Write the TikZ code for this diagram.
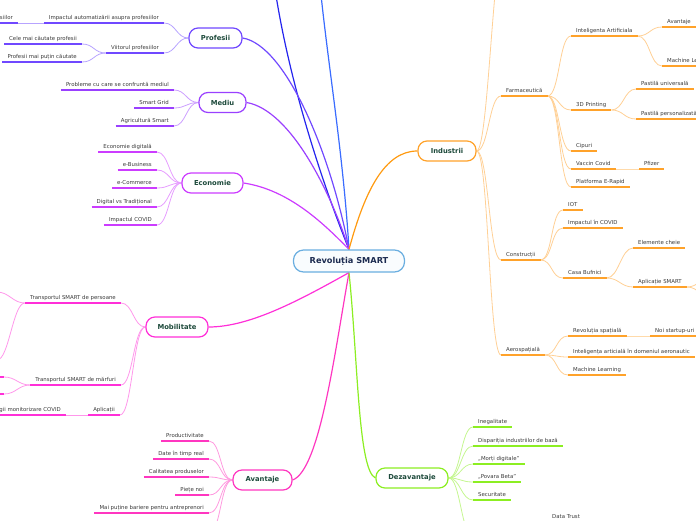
\documentclass[tikz,border=0pt]{standalone}
\usepackage{fontspec}
\setmainfont{DejaVu Sans}
\usetikzlibrary{backgrounds}
\definecolor{ctop1}{HTML}{3A6CFF}
\definecolor{ctop2}{HTML}{2424EE}
\definecolor{cprof}{HTML}{7048FF}
\definecolor{cmed}{HTML}{9A40FF}
\definecolor{ceco}{HTML}{CC3CFF}
\definecolor{cmob}{HTML}{FF2FD8}
\definecolor{cav}{HTML}{FF36C0}
\definecolor{cdez}{HTML}{8CEE22}
\definecolor{cind}{HTML}{FFA22A}
\definecolor{cindl}{HTML}{FF9A10}
\definecolor{cctr}{HTML}{6AAEE0}
\definecolor{leafgray}{HTML}{3A3A3A}
\definecolor{mtext}{HTML}{1D4A3B}
\definecolor{ctext}{HTML}{1C2B50}
\newcommand\lfont{\fontsize{5.4}{6.5}\selectfont}
\newcommand\mfont{\fontsize{6.8}{8}\selectfont\bfseries}
\newcommand\cfont{\fontsize{8.2}{10}\selectfont\bfseries}
\newcommand\lcurve[3]{\draw[cn=#1] (#2) .. controls +(-12,0) and +(12,0) .. (#3);}
\newcommand\rcurve[3]{\draw[cn=#1] (#2) .. controls +(12,0) and +(-12,0) .. (#3);}
\begin{document}
\begin{tikzpicture}[x=1pt,y=-1pt,
  leaf/.style={font=\lfont, text=leafgray, inner xsep=5pt, inner ysep=1.7pt,
    text height=4pt, text depth=1.3pt,
    append after command={(\tikzlastnode.south west) edge[line width=1.5pt, draw=#1] (\tikzlastnode.south east)}},
  mn/.style={draw=#1, line width=1.2pt, rounded corners=9pt, fill=white, font=\mfont,
    text=mtext, minimum height=20pt, inner sep=1pt},
  ctr/.style={draw=cctr, line width=1.2pt, rounded corners=10pt, fill=cctr!4, font=\cfont,
    text=ctext, minimum height=22pt, minimum width=111pt},
  br/.style={draw=#1, line width=1.2pt},
  cn/.style={draw=#1, line width=0.8pt}]
\useasboundingbox (0,0) rectangle (696,520);

% central and main nodes
\node[ctr] (c) at (349,261) {Revoluția SMART};
\node[mn=cprof, minimum width=53pt] (prof) at (215.5,38) {Profesii};
\node[mn=cmed, minimum width=47pt] (med) at (222.5,102.5) {Mediu};
\node[mn=ceco, minimum width=61pt] (eco) at (212.5,183) {Economie};
\node[mn=cmob, minimum width=62pt] (mob) at (177,327) {Mobilitate};
\node[mn=cav, minimum width=59pt] (av) at (262.5,480) {Avantaje};
\node[mn=cdez, minimum width=72pt] (dez) at (412,478) {Dezavantaje};
\node[mn=cind, minimum width=58pt] (ind) at (447,151) {Industrii};

\coordinate (top1) at (319,-25);
\coordinate (top2) at (273,-25);

% Profesii
\node[leaf=cprof, anchor=south east] (imp) at (164,23) {Impactul automatizării asupra profesiilor};
\node[leaf=cprof, anchor=south east] (imp1) at (18,23) {profesiilor};
\node[leaf=cprof, anchor=south east] (viit) at (164,53) {Viitorul profesiilor};
\node[leaf=cprof, anchor=south east] (cel) at (82,44) {Cele mai căutate profesii};
\node[leaf=cprof, anchor=south east] (pmp) at (82,62) {Profesii mai puțin căutate};

% Mediu
\node[leaf=cmed, anchor=south east] (pcm) at (174,90) {Probleme cu care se confruntă mediul};
\node[leaf=cmed, anchor=south east] (sg) at (174,108) {Smart Grid};
\node[leaf=cmed, anchor=south east] (as) at (174,126) {Agricultură Smart};

% Economie
\node[leaf=ceco, anchor=south east] (ed) at (157,152) {Economie digitală};
\node[leaf=ceco, anchor=south east] (eb) at (157,170) {e-Business};
\node[leaf=ceco, anchor=south east] (ec) at (157,188) {e-Commerce};
\node[leaf=ceco, anchor=south east] (dt) at (157,207) {Digital vs Tradițional};
\node[leaf=ceco, anchor=south east] (ic) at (157,225) {Impactul COVID};

% Mobilitate
\node[leaf=cmob, anchor=south east] (tsp) at (121,303) {Transportul SMART de persoane};
\node[leaf=cmob, anchor=south east] (tsm) at (121,385) {Transportul SMART de mărfuri};
\node[leaf=cmob, anchor=south east] (apl) at (120,415) {Aplicații};
\node[leaf=cmob, anchor=south east] (tmc) at (66,415) {Tehnologii monitorizare COVID};
\coordinate (tp1) at (-3,292);
\coordinate (tp2) at (-3,360);
\coordinate (tm1) at (4,377);
\coordinate (tm2) at (4,394);

% Avantaje
\node[leaf=cav, anchor=south east] (prd) at (209,441) {Productivitate};
\node[leaf=cav, anchor=south east] (dtr) at (209,459) {Date în timp real};
\node[leaf=cav, anchor=south east] (cp) at (209,477) {Calitatea produselor};
\node[leaf=cav, anchor=south east] (pn) at (209,495) {Piețe noi};
\node[leaf=cav, anchor=south east] (mpb) at (209,513) {Mai puține bariere pentru antreprenori};
\coordinate (av6) at (209,533);

% Dezavantaje
\node[leaf=cdez, anchor=south west] (ineg) at (473,427) {Inegalitate};
\node[leaf=cdez, anchor=south west] (dib) at (473,446) {Dispariția industriilor de bază};
\node[leaf=cdez, anchor=south west] (md) at (473,464) {„Morți digitale”};
\node[leaf=cdez, anchor=south west] (pb) at (473,482) {„Povara Beta”};
\node[leaf=cdez, anchor=south west] (sec) at (473,500) {Securitate};
\coordinate (dz6) at (473,536);
\node[leaf=cdez, anchor=south west] (dtrust) at (547,521.5) {Data Trust};

% Industrii
\coordinate (ind0) at (505,-60);
\node[leaf=cind, anchor=south west] (farm) at (501,96) {Farmaceutică};
\node[leaf=cind, anchor=south west] (ia) at (571,36) {Inteligenta Artificiala};
\node[leaf=cind, anchor=south west] (iaav) at (662,27) {Avantaje};
\node[leaf=cind, anchor=south west] (iaml) at (662,66) {Machine Learning};
\node[leaf=cind, anchor=south west] (tdp) at (571,110) {3D Printing};
\node[leaf=cind, anchor=south west] (pu) at (636,89) {Pastilă universală};
\node[leaf=cind, anchor=south west] (pp) at (636,119) {Pastilă personalizată};
\node[leaf=cind, anchor=south west] (cip) at (571,151) {Cipuri};
\node[leaf=cind, anchor=south west] (vc) at (571,169) {Vaccin Covid};
\node[leaf=cind, anchor=south west] (pf) at (639,169) {Pfizer};
\node[leaf=cind, anchor=south west] (per) at (571,187) {Platforma E-Rapid};
\node[leaf=cind, anchor=south west] (con) at (501,260) {Construcții};
\node[leaf=cind, anchor=south west] (iot) at (563,210) {IOT};
\node[leaf=cind, anchor=south west] (icov) at (563,228) {Impactul în COVID};
\node[leaf=cind, anchor=south west] (cb) at (563,278) {Casa Bufnici};
\node[leaf=cind, anchor=south west] (ech) at (633,248) {Elemente cheie};
\node[leaf=cind, anchor=south west] (asm) at (633,287) {Aplicație SMART};
\coordinate (as1) at (712,277);
\coordinate (as2) at (712,298);
\node[leaf=cind, anchor=south west] (aer) at (501,355) {Aerospațială};
\node[leaf=cind, anchor=south west] (rs) at (568,336) {Revoluția spațială};
\node[leaf=cind, anchor=south west] (nsu) at (650,336) {Noi startup-uri};
\node[leaf=cind, anchor=south west] (iaa) at (568,357) {Inteligența articială în domeniul aeronautic};
\node[leaf=cind, anchor=south west] (ml) at (568,375) {Machine Learning};

\begin{pgfonlayer}{background}
% main branches
\draw[br=ctop1] (c.north) .. controls (343,150) and (327,60) .. (top1);
\draw[br=ctop2] (c.north) .. controls (325,190) and (287,80) .. (top2);
\draw[br=cprof] (c.north) .. controls (330,150) and (285,45) .. (prof.east);
\draw[br=cmed] (c.north) .. controls (330,190) and (290,110) .. (med.east);
\draw[br=ceco] (c.north) .. controls (325,225) and (290,190) .. (eco.east);
\draw[br=cindl] (c.north) .. controls (365,190) and (385,151) .. (ind.west);
\draw[br=cmob] (c.south) .. controls (300,300) and (250,327) .. (mob.east);
\draw[br=cav] (c.south) .. controls (335,350) and (320,470) .. (av.east);
\draw[br=cdez] (c.south) .. controls (358,360) and (358,470) .. (dez.west);

% Profesii
\lcurve{cprof!50}{prof.west}{imp.south east}
\lcurve{cprof!50}{prof.west}{viit.south east}
\draw[cn=cprof!50] (imp.south west) -- (imp1.south east);
\lcurve{cprof!50}{viit.south west}{cel.south east}
\lcurve{cprof!50}{viit.south west}{pmp.south east}
% Mediu
\lcurve{cmed!50}{med.west}{pcm.south east}
\lcurve{cmed!50}{med.west}{sg.south east}
\lcurve{cmed!50}{med.west}{as.south east}
% Economie
\lcurve{ceco!50}{eco.west}{ed.south east}
\lcurve{ceco!50}{eco.west}{eb.south east}
\lcurve{ceco!50}{eco.west}{ec.south east}
\lcurve{ceco!50}{eco.west}{dt.south east}
\lcurve{ceco!50}{eco.west}{ic.south east}
% Mobilitate
\lcurve{cmob!50}{mob.west}{tsp.south east}
\lcurve{cmob!50}{mob.west}{tsm.south east}
\lcurve{cmob!50}{mob.west}{apl.south east}
\draw[cn=cmob!50] (apl.south west) -- (tmc.south east);
\lcurve{cmob!50}{tsp.south west}{tp1}
\lcurve{cmob!50}{tsp.south west}{tp2}
\lcurve{cmob!50}{tsm.south west}{tm1}
\lcurve{cmob!50}{tsm.south west}{tm2}
\draw[line width=1.5pt, draw=cmob] (tm1) -- ++(-10,0);
\draw[line width=1.5pt, draw=cmob] (tm2) -- ++(-10,0);
% Avantaje
\lcurve{cav!50}{av.west}{prd.south east}
\lcurve{cav!50}{av.west}{dtr.south east}
\lcurve{cav!50}{av.west}{cp.south east}
\lcurve{cav!50}{av.west}{pn.south east}
\lcurve{cav!50}{av.west}{mpb.south east}
\lcurve{cav!50}{av.west}{av6}
% Dezavantaje
\rcurve{cdez!50}{dez.east}{ineg.south west}
\rcurve{cdez!50}{dez.east}{dib.south west}
\rcurve{cdez!50}{dez.east}{md.south west}
\rcurve{cdez!50}{dez.east}{pb.south west}
\rcurve{cdez!50}{dez.east}{sec.south west}
\rcurve{cdez!50}{dez.east}{dz6}
% Industrii
\rcurve{cind!50}{ind.east}{ind0}
\rcurve{cind!50}{ind.east}{farm.south west}
\rcurve{cind!50}{ind.east}{con.south west}
\rcurve{cind!50}{ind.east}{aer.south west}
\rcurve{cind!50}{farm.south east}{ia.south west}
\rcurve{cind!50}{farm.south east}{tdp.south west}
\rcurve{cind!50}{farm.south east}{cip.south west}
\rcurve{cind!50}{farm.south east}{vc.south west}
\rcurve{cind!50}{farm.south east}{per.south west}
\rcurve{cind!50}{ia.south east}{iaav.south west}
\rcurve{cind!50}{ia.south east}{iaml.south west}
\rcurve{cind!50}{tdp.south east}{pu.south west}
\rcurve{cind!50}{tdp.south east}{pp.south west}
\draw[cn=cind!40] (vc.south east) -- (pf.south west);
\rcurve{cind!50}{con.south east}{iot.south west}
\rcurve{cind!50}{con.south east}{icov.south west}
\rcurve{cind!50}{con.south east}{cb.south west}
\rcurve{cind!50}{cb.south east}{ech.south west}
\rcurve{cind!50}{cb.south east}{asm.south west}
\rcurve{cind!50}{asm.south east}{as1}
\rcurve{cind!50}{asm.south east}{as2}
\rcurve{cind!50}{aer.south east}{rs.south west}
\rcurve{cind!50}{aer.south east}{iaa.south west}
\rcurve{cind!50}{aer.south east}{ml.south west}
\draw[cn=cind!40] (rs.south east) -- (nsu.south west);
\end{pgfonlayer}
\end{tikzpicture}
\end{document}
